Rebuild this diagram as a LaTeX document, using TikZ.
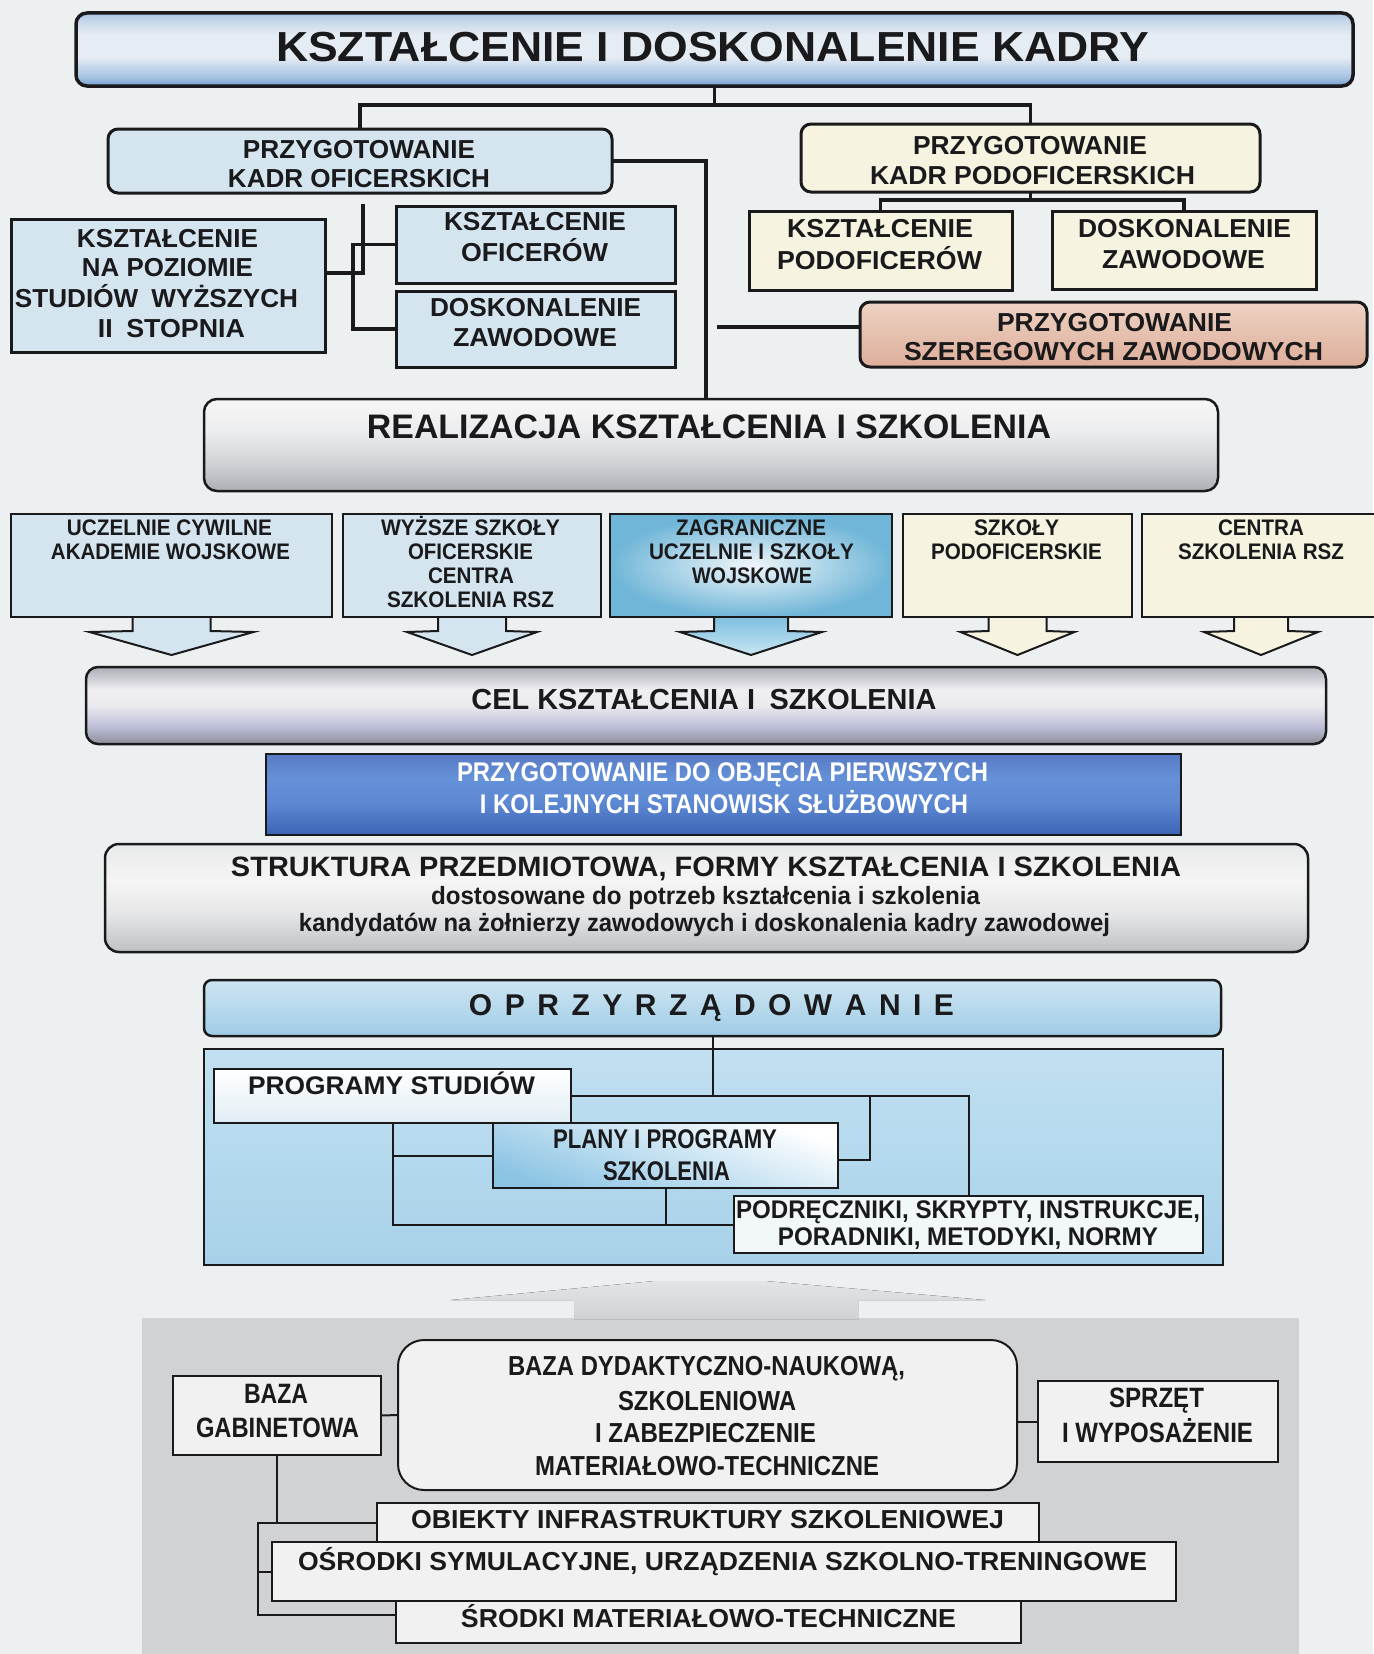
\documentclass[tikz,border=0pt]{standalone}
\usepackage{fontspec}
\setmainfont{Liberation Sans}
\usepackage{graphicx}
\usetikzlibrary{calc,fadings}

% palette
\definecolor{page}{RGB}{237,240,241}
\definecolor{ink}{RGB}{26,26,28}
\definecolor{lblue}{RGB}{212,229,240}
\definecolor{cream}{RGB}{246,244,224}
\definecolor{salA}{RGB}{238,210,196}
\definecolor{salB}{RGB}{221,174,153}
\definecolor{panel}{RGB}{208,210,212}
\definecolor{paper}{RGB}{241,241,241}
\definecolor{tA}{RGB}{118,158,208}
\definecolor{tB}{RGB}{165,194,226}
\definecolor{tC}{RGB}{230,236,243}
\definecolor{tD}{RGB}{196,214,234}
\definecolor{tE}{RGB}{172,198,228}
\definecolor{rA}{RGB}{172,175,179}
\definecolor{rB}{RGB}{208,211,214}
\definecolor{rC}{RGB}{236,237,238}
\definecolor{rD}{RGB}{247,247,247}
\definecolor{cA}{RGB}{140,142,152}
\definecolor{cB}{RGB}{188,190,214}
\definecolor{cC}{RGB}{234,234,239}
\definecolor{cD}{RGB}{240,240,243}
\definecolor{cE}{RGB}{172,173,182}
\definecolor{bA}{RGB}{60,100,180}
\definecolor{bB}{RGB}{92,136,210}
\definecolor{bC}{RGB}{100,145,216}
\definecolor{bD}{RGB}{88,122,196}
\definecolor{sA}{RGB}{190,192,195}
\definecolor{sB}{RGB}{228,229,230}
\definecolor{sC}{RGB}{245,245,245}
\definecolor{sD}{RGB}{232,233,234}
\definecolor{oprT}{RGB}{206,229,242}
\definecolor{oprB}{RGB}{160,204,230}
\definecolor{conT}{RGB}{193,224,241}
\definecolor{conB}{RGB}{168,209,233}
\definecolor{zagIn}{RGB}{240,246,250}
\definecolor{zagOut}{RGB}{112,182,216}
\definecolor{arrT}{RGB}{128,192,224}
\definecolor{arrB}{RGB}{200,230,242}
\definecolor{plB}{RGB}{140,196,228}
\definecolor{fadeTop}{RGB}{226,228,229}

% vertical colour runs (bottom -> top)
\pgfdeclareverticalshading{titlesh}{100bp}{color(0bp)=(tA); color(25bp)=(tA); color(31bp)=(tB); color(45bp)=(tC); color(60bp)=(tC); color(70bp)=(tD); color(75bp)=(tE); color(100bp)=(tE)}
\pgfdeclareverticalshading{realsh}{100bp}{color(0bp)=(rA); color(25bp)=(rA); color(40bp)=(rB); color(58bp)=(rC); color(75bp)=(rD); color(100bp)=(rD)}
\pgfdeclareverticalshading{celsh}{100bp}{color(0bp)=(cA); color(25bp)=(cA); color(36bp)=(cB); color(50bp)=(cC); color(60bp)=(cD); color(75bp)=(cE); color(100bp)=(cE)}
\pgfdeclareverticalshading{bansh}{100bp}{color(0bp)=(bA); color(25bp)=(bA); color(45bp)=(bB); color(60bp)=(bC); color(75bp)=(bD); color(100bp)=(bD)}
\pgfdeclareverticalshading{strsh}{100bp}{color(0bp)=(sA); color(25bp)=(sA); color(42bp)=(sB); color(58bp)=(sC); color(75bp)=(sD); color(100bp)=(sD)}

\tikzfading[name=midlight, left color=transparent!100, middle color=transparent!55, right color=transparent!100]

\newcommand\fs[1]{\fontsize{#1}{#1}\selectfont\bfseries}
\newcommand\fw[2]{\resizebox{#1pt}{\height}{#2}}
% one line of text: [style]{size}{name}{x,y of baseline}{width}{text}
\newcommand\lbl[6][]{\node[txt,#1,font=\fs{#2}] (#3) at (#4) {\fw{#5}{#6}};}
% open arrow below a box: node, half stem, half wing, style
\newcommand\dnarrow[4]{%
  \path[#4] ($(#1.south)+(-#2,1)$) -- ($(#1.south)+(-#2,14)$) -- ($(#1.south)+(-#3,15)$)
    -- ($(#1.south)+(0,38)$) -- ($(#1.south)+(#3,15)$) -- ($(#1.south)+(#2,14)$) -- ($(#1.south)+(#2,1)$);}

\begin{document}
\begin{tikzpicture}[x=1pt,y=-1pt,
  txt/.style={anchor=base, inner sep=0pt, outer sep=0pt, text=ink},
  bx/.style={draw=ink, inner sep=0pt, outer sep=0pt},
  conn/.style={draw=ink, line width=3.2pt},
  thin/.style={draw=ink, line width=2pt}]

\fill[page] (0,0) rectangle (1373,1654);
\useasboundingbox (0,0) rectangle (1373,1654);

% ---------- top level ----------
\node[bx, line width=3.5pt, shade, shading=titlesh, rounded corners=11pt,
      minimum width=1277pt, minimum height=73pt] (title) at (714.5,49.5) {};
\lbl{42}{title-t}{712.5,62}{873}{KSZTAŁCENIE I DOSKONALENIE KADRY}

\node[bx, line width=3pt, fill=lblue, rounded corners=10pt,
      minimum width=504pt, minimum height=64pt] (ofic) at (360,161) {};
\lbl{26}{ofic-1}{359,158}{232}{PRZYGOTOWANIE}
\lbl{26}{ofic-2}{359,187}{262}{KADR OFICERSKICH}

\node[bx, line width=3pt, fill=cream, rounded corners=10pt,
      minimum width=459pt, minimum height=68pt] (podof) at (1030.5,158) {};
\lbl{26}{podof-1}{1030,154.5}{234}{PRZYGOTOWANIE}
\lbl{26}{podof-2}{1032.5,184.5}{325}{KADR PODOFICERSKICH}

% officers branch
\node[bx, line width=3pt, fill=lblue, minimum width=314pt, minimum height=133pt] (nap) at (168,285.5) {};
\lbl{26}{nap-1}{167.5,247.5}{181}{KSZTAŁCENIE}
\lbl{26}{nap-2}{167.5,276.5}{171}{NA POZIOMIE}
\lbl{26}{nap-3}{156.5,307.5}{283}{STUDIÓW\hspace{0.5em}WYŻSZYCH}
\lbl{26}{nap-4}{171.5,337.5}{147}{II\hspace{0.5em}STOPNIA}

\node[bx, line width=3pt, fill=lblue, minimum width=279pt, minimum height=77pt] (kofic) at (535.5,244.5) {};
\lbl{26}{kofic-1}{535,230.5}{182}{KSZTAŁCENIE}
\lbl{26}{kofic-2}{534.5,261.5}{147}{OFICERÓW}

\node[bx, line width=3pt, fill=lblue, minimum width=279pt, minimum height=76pt] (dosk1) at (535.5,329) {};
\lbl{26}{dosk1-1}{535.5,316.5}{211}{DOSKONALENIE}
\lbl{26}{dosk1-2}{535,346.5}{164}{ZAWODOWE}

% non-commissioned branch
\node[bx, line width=3pt, fill=cream, minimum width=263pt, minimum height=79pt] (ksp) at (880.5,250.5) {};
\lbl{26}{ksp-1}{880,237.5}{186}{KSZTAŁCENIE}
\lbl{26}{ksp-2}{879.5,269}{205}{PODOFICERÓW}

\node[bx, line width=3pt, fill=cream, minimum width=264pt, minimum height=78pt] (dzr) at (1184,250) {};
\lbl{26}{dzr-1}{1184.5,237.5}{213}{DOSKONALENIE}
\lbl{26}{dzr-2}{1183.5,268}{163}{ZAWODOWE}

\node[bx, line width=3pt, top color=salA, bottom color=salB, rounded corners=10pt,
      minimum width=507pt, minimum height=65pt] (szer) at (1113.5,334.5) {};
\lbl{26}{szer-1}{1114.5,331.5}{235}{PRZYGOTOWANIE}
\lbl{26}{szer-2}{1113.5,360.5}{419}{SZEREGOWYCH ZAWODOWYCH}

% realisation
\node[bx, line width=2.5pt, shade, shading=realsh, rounded corners=13pt,
      minimum width=1014pt, minimum height=92pt] (realiz) at (711,445) {};
\lbl{34}{realiz-t}{709,438}{684}{REALIZACJA KSZTAŁCENIA I SZKOLENIA}

% connectors of the top part
\coordinate (bus1) at ([yshift=-19pt]title.south);
\draw[conn] (title.south) -- (bus1);
\draw[conn] (ofic.north) |- (bus1) -| (podof.north);
\coordinate (spine) at (706,161);
\draw[conn] (ofic.east) -- (spine) -- (spine |- realiz.north);
\coordinate (szs) at (717,327);
\draw[conn] (szs) -- (szs -| szer.west);
\coordinate (lv) at (363,204);
\coordinate (lj) at (363,273);
\draw[conn] (lv) -- (lj) -- (lj -| nap.east);
\draw[conn] (kofic.west) -- ++(-43,0) |- (dosk1.west);
\coordinate (bus2) at ([yshift=-8pt]podof.south);
\draw[conn] (podof.south) -- (bus2);
\draw[conn] (ksp.north) |- (bus2) -| (dzr.north);

% ---------- schools ----------
\node[bx, line width=2pt, fill=lblue, minimum width=321pt, minimum height=103pt] (b1) at (171.5,565.5) {};
\node[bx, line width=2pt, fill=lblue, minimum width=258pt, minimum height=103pt] (b2) at (472,565.5) {};
\node[bx, line width=2pt, inner color=zagIn, outer color=zagOut, minimum width=282pt, minimum height=103pt] (b3) at (751,565.5) {};
\node[bx, line width=2pt, fill=cream, minimum width=229pt, minimum height=103pt] (b4) at (1017.5,565.5) {};
\node[bx, line width=2pt, fill=cream, minimum width=238pt, minimum height=103pt] (b5) at (1261,565.5) {};

\dnarrow{b1}{39}{82}{fill=lblue, draw=ink, line width=2pt, line join=miter}
\dnarrow{b2}{34}{65}{fill=lblue, draw=ink, line width=2pt, line join=miter}
\dnarrow{b3}{37}{71}{top color=arrT, bottom color=arrB, draw=ink, line width=2pt, line join=miter}
\dnarrow{b4}{29}{57}{fill=cream, draw=ink, line width=2pt, line join=miter}
\dnarrow{b5}{27}{57}{fill=cream, draw=ink, line width=2pt, line join=miter}

\lbl{22.5}{b1-1}{169.5,535}{205}{UCZELNIE CYWILNE}
\lbl{22.5}{b1-2}{170.5,559}{239}{AKADEMIE WOJSKOWE}
\lbl{22.5}{b2-1}{470.5,535}{179}{WYŻSZE SZKOŁY}
\lbl{22.5}{b2-2}{470.5,559}{125}{OFICERSKIE}
\lbl{22.5}{b2-3}{471,583}{86}{CENTRA}
\lbl{22.5}{b2-4}{470.5,607}{167}{SZKOLENIA RSZ}
\lbl{22.5}{b3-1}{751,535}{150}{ZAGRANICZNE}
\lbl{22.5}{b3-2}{751.5,559}{205}{UCZELNIE I SZKOŁY}
\lbl{22.5}{b3-3}{752,583}{120}{WOJSKOWE}
\lbl{22.5}{b4-1}{1016.5,535}{85}{SZKOŁY}
\lbl{22.5}{b4-2}{1016.5,559}{171}{PODOFICERSKIE}
\lbl{22.5}{b5-1}{1261,535}{86}{CENTRA}
\lbl{22.5}{b5-2}{1261,559}{166}{SZKOLENIA RSZ}

% ---------- aim ----------
\node[inner sep=0pt, outer sep=0pt, shade, shading=celsh, rounded corners=12pt,
      minimum width=1240pt, minimum height=77pt] (cel) at (706,705.5) {};
\path[fill=white, path fading=midlight, rounded corners=12pt]
  ([shift={(1.5pt,1.5pt)}]cel.south west) rectangle ([shift={(-1.5pt,-1.5pt)}]cel.north east);
\draw[ink, line width=2.5pt, rounded corners=12pt] (cel.south west) rectangle (cel.north east);
\lbl{29}{cel-t}{704,709.5}{465}{CEL KSZTAŁCENIA I\hspace{0.5em}SZKOLENIA}

\node[bx, line width=2pt, shade, shading=bansh, minimum width=915pt, minimum height=81pt] (ban) at (723.5,794.5) {};
\lbl[text=white]{27}{ban-1}{722.5,781}{531}{PRZYGOTOWANIE DO OBJĘCIA PIERWSZYCH}
\lbl[text=white]{27}{ban-2}{724,813.5}{488}{I KOLEJNYCH STANOWISK SŁUŻBOWYCH}

\node[bx, line width=2.5pt, shade, shading=strsh, rounded corners=14pt,
      minimum width=1203pt, minimum height=108pt] (str) at (706.5,898) {};
\lbl{28}{str-1}{706,876.5}{950}{STRUKTURA PRZEDMIOTOWA, FORMY KSZTAŁCENIA I SZKOLENIA}
\lbl{25}{str-2}{705.5,904}{549}{dostosowane do potrzeb kształcenia i szkolenia}
\lbl{25}{str-3}{704.5,931.5}{811}{kandydatów na żołnierzy zawodowych i doskonalenia kadry zawodowej}

% ---------- equipment ----------
\node[bx, line width=2.5pt, top color=oprT, bottom color=oprB, rounded corners=8pt,
      minimum width=1017pt, minimum height=56pt] (opr) at (712.5,1008) {};
\lbl{30}{opr-t}{711.5,1015}{485}{\spaceskip=12.5pt\relax O P R Z Y R Z Ą D O W A N I E}

\node[bx, line width=2.5pt, top color=conT, bottom color=conB,
      minimum width=1019pt, minimum height=216pt] (cont) at (713.5,1157) {};

\node[bx, line width=2pt, top color=white, bottom color=lblue!70, minimum width=357pt, minimum height=54pt] (prog) at (392.5,1096) {};
\node[bx, line width=2pt, top color=white, bottom color=plB, shading angle=-20, minimum width=345pt, minimum height=65pt] (plany) at (665.5,1155.5) {};
\node[bx, line width=2pt, fill=white!70!lblue, minimum width=469pt, minimum height=57pt] (podr) at (968.5,1224.5) {};

\draw[thin] (opr.south) -- (opr.south |- prog.east);
\draw[thin] (prog.east) -| (podr.north);
\coordinate (px) at (870,1160);
\draw[thin] (plany.east |- px) -- (px) -- (px |- prog.east);
\draw[thin] (prog.south) |- (podr.west);
\draw[thin] (prog.south |- plany.west) -- (plany.west);
\draw[thin] (plany.south) -- (plany.south |- podr.west);

\lbl{25.5}{prog-t}{391.5,1094}{287}{PROGRAMY STUDIÓW}
\lbl{27}{plany-1}{665,1148.5}{224}{PLANY I PROGRAMY}
\lbl{27}{plany-2}{666.5,1180}{127}{SZKOLENIA}
\lbl{25.5}{podr-1}{968,1218.5}{464}{PODRĘCZNIKI, SKRYPTY, INSTRUKCJE,}
\lbl{25.5}{podr-2}{968,1245.5}{380}{PORADNIKI, METODYKI, NORMY}

% ---------- material base ----------
\fill[panel] (142,1318) rectangle (1299,1654);
\fill[top color=fadeTop, bottom color=panel]
  (451,1300) -- (655,1281) -- (765,1281) -- (985,1300) -- (858,1300) -- (858,1319)
  -- (574,1319) -- (574,1300) -- cycle;

\node[bx, line width=2pt, fill=paper, rounded corners=26pt, minimum width=619pt, minimum height=150pt] (baza) at (707.5,1415) {};
\lbl{27.5}{baza-1}{706.5,1375}{397}{BAZA DYDAKTYCZNO-NAUKOWĄ,}
\lbl{27.5}{baza-2}{707,1410}{178}{SZKOLENIOWA}
\lbl{27.5}{baza-3}{705.5,1442}{221}{I ZABEZPIECZENIE}
\lbl{27.5}{baza-4}{707,1475}{344}{MATERIAŁOWO-TECHNICZNE}

\node[bx, line width=2pt, fill=paper, minimum width=208pt, minimum height=79pt] (gab) at (277,1415.5) {};
\lbl{28}{gab-1}{276,1403.5}{64}{BAZA}
\lbl{28}{gab-2}{277.5,1437.5}{163}{GABINETOWA}

\node[bx, line width=2pt, fill=paper, minimum width=240pt, minimum height=81pt] (sprz) at (1158,1421.5) {};
\lbl{28}{sprz-1}{1156.5,1407}{95}{SPRZĘT}
\lbl{28}{sprz-2}{1157.5,1442}{191}{I WYPOSAŻENIE}

\draw[thin] (gab.east) -- (baza.west);
\draw[thin] (sprz.west) -- (sprz.west -| baza.east);

\node[bx, line width=2pt, fill=paper, minimum width=625pt, minimum height=42pt] (srod) at (708.5,1622) {};
\node[bx, line width=2pt, fill=paper, minimum width=662pt, minimum height=40pt] (obj) at (708,1523) {};
\node[bx, line width=2pt, fill=paper, minimum width=904pt, minimum height=59pt] (osr) at (724,1571.5) {};
\lbl{26}{obj-t}{707.5,1528}{593}{OBIEKTY INFRASTRUKTURY SZKOLENIOWEJ}
\lbl{26}{osr-t}{722.5,1570}{849}{OŚRODKI SYMULACYJNE, URZĄDZENIA SZKOLNO-TRENINGOWE}
\lbl{26}{srod-t}{708.5,1627}{495}{ŚRODKI MATERIAŁOWO-TECHNICZNE}

\coordinate (gb) at (258,1523);
\coordinate (sj) at (258,1615);
\draw[thin] (gab.south) -- (gab.south |- obj.west);
\draw[thin] (obj.west) -- (gb) -- (sj) -- (sj -| srod.west);
\draw[thin] (gb |- osr.west) -- (osr.west);

\end{tikzpicture}
\end{document}
